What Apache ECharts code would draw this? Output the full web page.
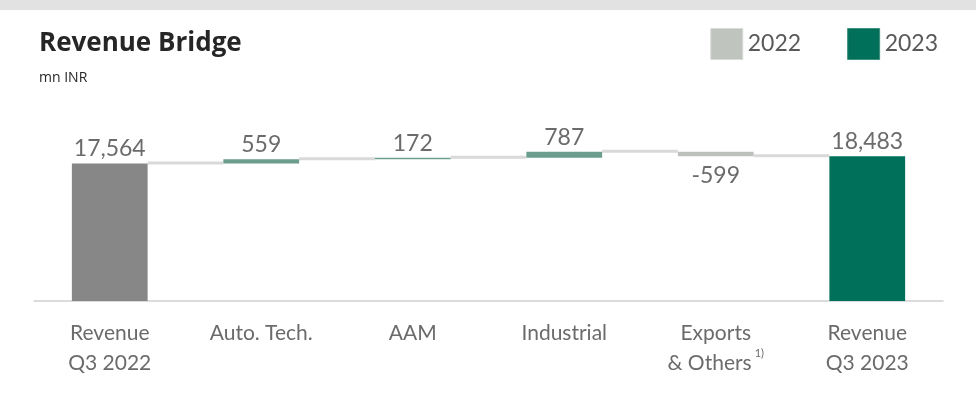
<!DOCTYPE html>
<html>
<head>
<meta charset="utf-8">
<script src="https://cdn.jsdelivr.net/npm/echarts@6/dist/echarts.min.js"></script>
<style>
html,body{margin:0;padding:0;background:#fff;}
#chart{width:976px;height:406px;}
</style>
</head>
<body>
<div id="chart"></div>
<script>
// ---- data ----
const categories = ['Revenue\nQ3 2022', 'Auto. Tech.', 'AAM', 'Industrial', 'Exports\n& Others{sup|1)}', 'Revenue\nQ3 2023'];
const startValue = 17564;
const deltas = [559, 172, 787, -599];
const endValue = 18483;
const valueLabels = ['17,564', '559', '172', '787', '-599', '18,483'];
const legendNames = ['2022', '2023'];

// ---- derived (from data) ----
const levels = [startValue];
deltas.forEach(d => levels.push(levels[levels.length - 1] + d));
const baseVals = [0];
const heightVals = [startValue];
deltas.forEach((d, i) => {
  const prev = levels[i];
  const cur = levels[i + 1];
  baseVals.push(Math.min(prev, cur));
  heightVals.push(Math.abs(d));
});
baseVals.push(0);
heightVals.push(endValue);

const colStart = '#878787';
const colUp = '#6b9e8e';
const colDown = '#bcc2bb';
const colEnd = '#00705a';

const deltaData = heightVals.map((v, i) => {
  let color;
  if (i === 0) color = colStart;
  else if (i === heightVals.length - 1) color = colEnd;
  else color = deltas[i - 1] >= 0 ? colUp : colDown;
  const neg = i > 0 && i < heightVals.length - 1 && deltas[i - 1] < 0;
  return {
    value: v,
    itemStyle: { color },
    label: neg ? { position: 'bottom', distance: 8 } : { position: 'top', distance: 3 }
  };
});

const connectorData = levels.map((lv, i) => [i, lv]);

const chart = echarts.init(document.getElementById('chart'));
const font = 'Lato, "Noto Sans", sans-serif';
chart.setOption({
  animation: false,
  graphic: [
    { type: 'rect', left: 0, top: 0, shape: { width: 976, height: 10 }, style: { fill: '#e2e2e2' } }
  ],
  title: {
    text: 'Revenue Bridge',
    subtext: 'mn INR',
    left: 34,
    top: 26,
    itemGap: 14,
    textStyle: { fontFamily: '"Open Sans", sans-serif', fontWeight: 'bold', fontSize: 26, color: '#262626' },
    subtextStyle: { fontFamily: '"Open Sans", sans-serif', fontSize: 14, color: '#262626' }
  },
  legend: {
    right: 33,
    top: 23,
    itemWidth: 32,
    itemHeight: 31,
    itemGap: 46,
    icon: 'rect',
    selectedMode: false,
    textStyle: { fontFamily: font, fontSize: 23, color: '#595959' },
    data: [
      { name: legendNames[0], itemStyle: { color: '#bfc4be', borderColor: '#d9dcd8', borderWidth: 1 } },
      { name: legendNames[1], itemStyle: { color: '#00705a', borderColor: '#3f8f7e', borderWidth: 1 } }
    ]
  },
  grid: { left: 34, right: 33, top: 121, bottom: 105 },
  xAxis: {
    type: 'category',
    data: categories,
    axisLine: { lineStyle: { color: '#d0d0d0', width: 1.5 } },
    axisTick: { show: false },
    axisLabel: {
      margin: 17,
      fontFamily: font,
      fontSize: 21,
      color: '#6b6b6b',
      lineHeight: 30,
      interval: 0,
      rich: { sup: { fontSize: 11, color: '#6b6b6b', verticalAlign: 'top', padding: [0, 0, 12, 3] } }
    }
  },
  yAxis: {
    type: 'value',
    min: 0,
    max: 23000,
    show: false,
    splitLine: { show: false }
  },
  series: [
    {
      type: 'bar',
      stack: 'w',
      barWidth: '50%',
      itemStyle: { color: 'transparent' },
      data: baseVals,
      silent: true
    },
    {
      type: 'bar',
      stack: 'w',
      barWidth: '50%',
      data: deltaData,
      label: {
        show: true,
        fontFamily: font,
        fontSize: 23,
        color: '#6b6b6b',
        formatter: p => valueLabels[p.dataIndex]
      }
    },
    {
      type: 'custom',
      data: connectorData,
      renderItem: function (params, api) {
        const i = api.value(0);
        if (i >= categories.length - 1) return;
        const lv = api.value(1);
        const p1 = api.coord([i, lv]);
        const p2 = api.coord([i + 1, lv]);
        const bw = api.size([1, 0])[0] * 0.5;
        return {
          type: 'line',
          shape: { x1: p1[0] + bw / 2, y1: p1[1] - 0.5, x2: p2[0] - bw / 2, y2: p2[1] - 0.5 },
          style: { stroke: '#d9d9d9', lineWidth: 3 }
        };
      },
      z: 1
    },
    { name: legendNames[0], type: 'custom', data: [], renderItem: () => null, itemStyle: { color: '#bfc4be' } },
    { name: legendNames[1], type: 'custom', data: [], renderItem: () => null, itemStyle: { color: '#00705a' } }
  ]
});
</script>
</body>
</html>
